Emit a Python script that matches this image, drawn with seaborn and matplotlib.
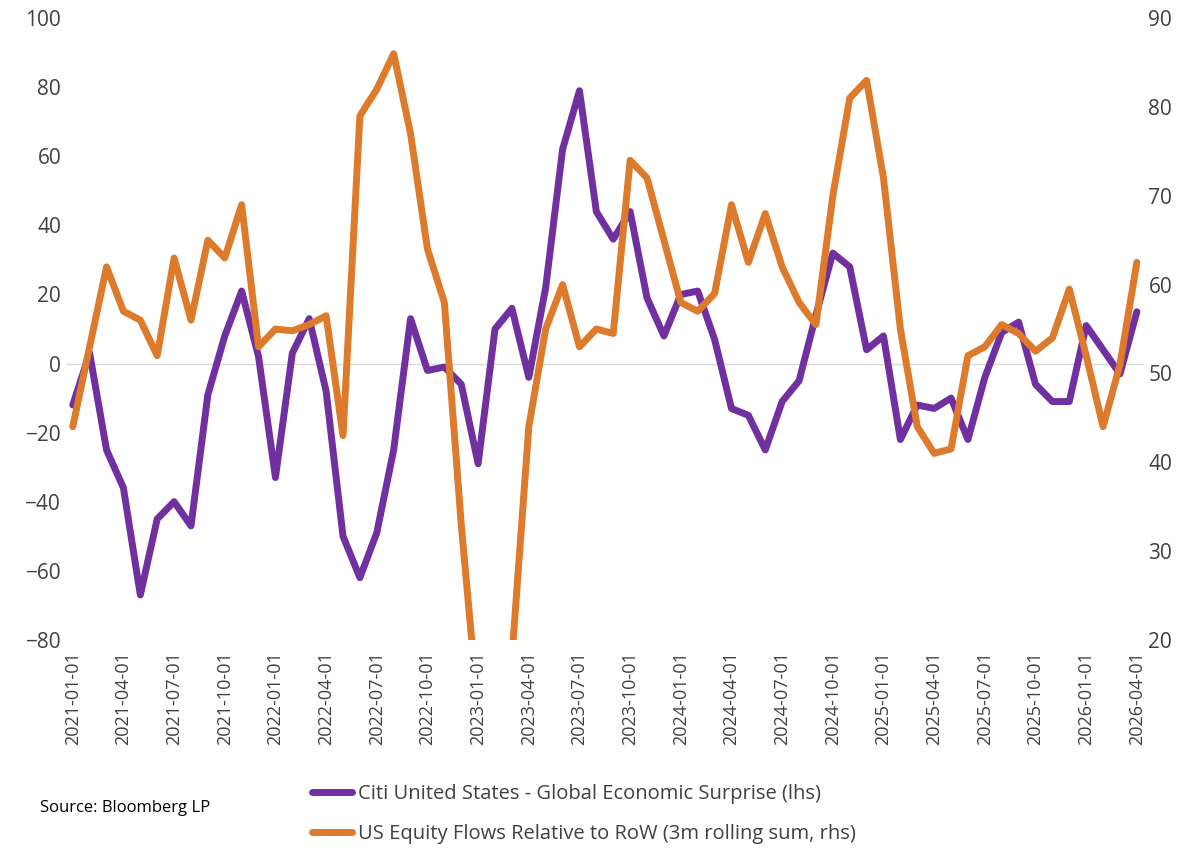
import matplotlib
matplotlib.use("Agg")
import matplotlib.pyplot as plt
import seaborn as sns
import pandas as pd
import numpy as np

dates = pd.date_range("2021-01-01", "2026-04-01", freq="MS")
surprise = [-12, 3, -25, -36, -67, -45, -40, -47, -9, 8, 21, 2, -33, 3, 13, -8,
            -50, -62, -49, -25, 13, -2, -1, -6, -29, 10, 16, -4, 22, 62, 79, 44,
            36, 44, 19, 8, 20, 21, 7, -13, -15, -25, -11, -5, 14, 32, 28, 4,
            8, -22, -12, -13, -10, -22, -4, 9, 12, -6, -11, -11, 11, 4, -3, 15]
flows = [44, 53, 62, 57, 56, 52, 63, 56, 65, 63, 69, 53, 55, 54.8, 55.5, 56.5,
         43, 79, 82, 86, 77, 64, 58, 33, 12, 12, 18, 44, 55, 60, 53, 55,
         54.5, 74, 72, 65, 58, 57, 59, 69, 62.5, 68, 62, 58, 55.5, 70, 81, 83,
         72, 55, 44, 41, 41.5, 52, 53, 55.5, 54.5, 52.5, 54, 59.5, 52, 44, 51, 62.5]
labels = [d.strftime("%Y-%m-%d") for d in dates]

df = pd.DataFrame({"i": np.arange(len(dates)), "s": surprise, "f": flows})

sns.set_style("white")
plt.rcParams['font.family'] = ['Open Sans', 'DejaVu Sans']
fig = plt.figure(figsize=(12, 8.67), dpi=100)
ax = fig.add_axes([0.055, 0.262, 0.898, 0.717])
ax2 = ax.twinx()
purple = "#7030A0"
orange = "#DD7A2C"
sns.lineplot(data=df, x="i", y="s", ax=ax, color=purple, lw=5, legend=False)
sns.lineplot(data=df, x="i", y="f", ax=ax2, color=orange, lw=5, legend=False)

ax.set_ylim(-80, 100)
ax.set_yticks(range(-80, 101, 20))
ax2.set_ylim(20, 90)
ax2.set_yticks(range(20, 91, 10))
ax.set_xlim(-0.4, len(dates) - 0.6)
ticks = list(range(0, len(dates), 3))
ax.set_xticks(ticks)
ax.set_xticklabels([labels[t] for t in ticks], rotation=90, fontsize=13, color="#404040")
ax.axhline(0, color="#d9d9d9", lw=1, zorder=0)
for a in (ax, ax2):
    for s in a.spines.values():
        s.set_visible(False)
    a.set_xlabel("")
    a.set_ylabel("")
    a.tick_params(axis="y", labelsize=15, colors="#404040", length=0)
ax.tick_params(axis="x", length=0, pad=8)

from matplotlib.lines import Line2D
h = [Line2D([], [], color=purple, lw=5), Line2D([], [], color=orange, lw=5)]
fig.legend(h, ["Citi United States - Global Economic Surprise (lhs)",
               "US Equity Flows Relative to RoW (3m rolling sum, rhs)"],
           loc="upper left", bbox_to_anchor=(0.253, 0.105), frameon=False,
           fontsize=14.5, labelcolor="#404040", handlelength=2.0, handletextpad=0.3,
           labelspacing=1.0, bbox_transform=fig.transFigure, borderaxespad=0)
fig.text(0.033, 0.063, "Source: Bloomberg LP", fontsize=12, color="black")
fig.savefig("out.png", dpi=100)
